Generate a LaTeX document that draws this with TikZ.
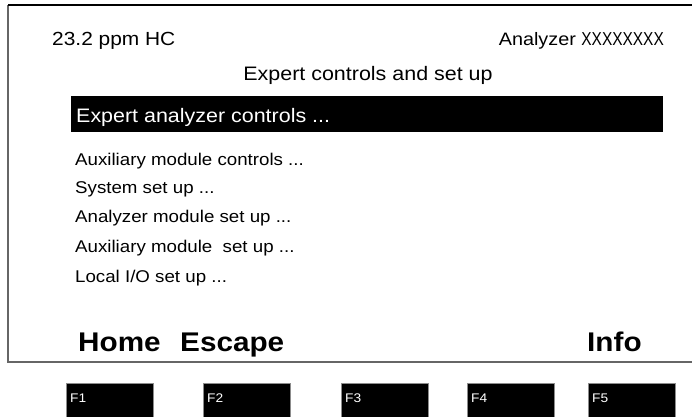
\documentclass[tikz,border=0pt]{standalone}
\usepackage{fontspec}
\setmainfont[FakeStretch=1.1]{Liberation Sans}
\begin{document}
\begin{tikzpicture}[x=1pt,y=-1pt]

    \tikzset{
      headtext/.style={inner sep=0pt,font=\fontsize{19}{22}\selectfont},
      menuitem/.style={anchor=base west,inner sep=0pt,font=\fontsize{17}{20}\selectfont},
      softkey/.style={anchor=base west,inner sep=0pt,font=\bfseries\fontsize{27}{31}\selectfont},
      fkey/.style={
        anchor=north west,
        fill=black,
        draw=black!45,
        minimum width=87,
        minimum height=34,
        inner sep=0pt,
      },
      fkeylabel/.style={anchor=base west,inner sep=0pt,text=white,font=\fontsize{12.5}{15}\selectfont},
    }
    \useasboundingbox (0,0) rectangle (692,416);

	\draw[color=black!60,line width=1.2] (692,362)--(8,362)--(8,5);
	\draw[color=black,line width=1.2] (8,5)--(692,5);

	\node[headtext,anchor=base west] (reading) at (52,45) {23.2 ppm HC};
	\node[headtext,anchor=base east,font=\fontsize{18}{21}\selectfont] (analyzer) at (664,45) {Analyzer \scalebox{0.78}[1.04]{XXXXXXXX}};
	\node[headtext,anchor=base,font=\fontsize{19.5}{22}\selectfont] (title) at (368,80) {Expert controls and set up};

	\fill[black] (71,96) rectangle (663,132);
	\node[headtext,anchor=base west,text=white,font=\fontsize{19.5}{22}\selectfont] (expert) at (76,122) {Expert analyzer controls ...};

	\node[menuitem] (auxctl) at (75,165) {Auxiliary module controls ...};
	\node[menuitem] (system) at (75,193) {System set up ...};
	\node[menuitem] (module) at (75,222) {Analyzer module set up ...};
	\node[menuitem] (auxset) at (75,252) {Auxiliary module\ \ set up ...};
	\node[menuitem] (localio) at (75,282) {Local I/O set up ...};

	\node[softkey] (home) at (78,351) {Home};
	\node[softkey] (escape) at (180,351) {Escape};
	\node[softkey] (info) at (587,351) {Info};

	\node[fkey] (f1) at (66,383) {};
	\node[fkey] (f2) at (203,383) {};
	\node[fkey] (f3) at (341,383) {};
	\node[fkey] (f4) at (467,383) {};
	\node[fkey] (f5) at (588,383) {};
	\node[fkeylabel] (f1l) at ([xshift=4pt,yshift=-19pt]f1.north west) {F1};
	\node[fkeylabel] (f2l) at ([xshift=4pt,yshift=-19pt]f2.north west) {F2};
	\node[fkeylabel] (f3l) at ([xshift=4pt,yshift=-19pt]f3.north west) {F3};
	\node[fkeylabel] (f4l) at ([xshift=4pt,yshift=-19pt]f4.north west) {F4};
	\node[fkeylabel] (f5l) at ([xshift=4pt,yshift=-19pt]f5.north west) {F5};

\end{tikzpicture}
\end{document}
